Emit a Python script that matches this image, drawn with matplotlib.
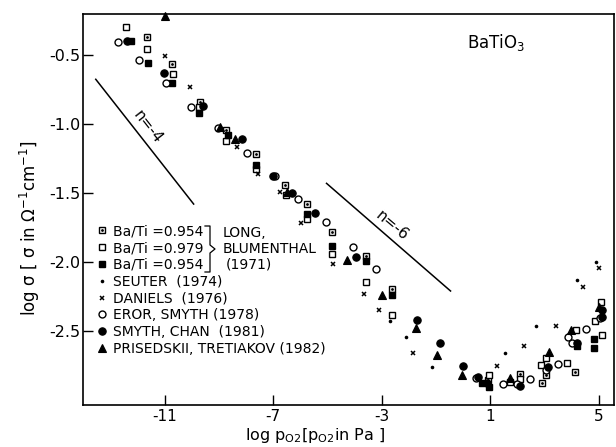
import matplotlib
matplotlib.use("Agg")
import matplotlib.pyplot as plt

plt.rcParams['font.family'] = ['DejaVu Sans']
plt.rcParams['mathtext.default'] = 'regular'

# ---------------- data (log pO2 [Pa], log sigma [S/cm]) ----------------
lb954_dot_x = [-11.65, -10.72, -9.71, -8.72, -7.62, -6.57, -5.75, -4.81, -3.58, -2.61, 0.93, 2.10, 2.90, 3.08, 4.13]
lb954_dot_y = [-0.367, -0.565, -0.838, -1.04, -1.22, -1.442, -1.582, -1.78, -1.954, -2.196, -2.855, -2.814, -2.874, -2.819, -2.795]

lb979_x = [-12.41, -11.64, -10.69, -9.72, -8.72, -7.62, -6.54, -5.75, -4.81, -3.59, -2.61, 0.97, 1.73, 2.10, 2.86, 3.05, 3.82, 4.17, 4.87, 5.11, 5.09]
lb979_y = [-0.295, -0.454, -0.638, -0.88, -1.123, -1.326, -1.514, -1.688, -1.944, -2.147, -2.384, -2.819, -2.872, -2.85, -2.746, -2.693, -2.734, -2.493, -2.428, -2.529, -2.287]

lb954_fill_x = [-12.25, -11.62, -10.73, -9.72, -8.66, -7.64, -5.75, -4.81, -3.58, -2.61, 0.72, 0.97, 4.19, 4.84, 4.83]
lb954_fill_y = [-0.40, -0.56, -0.705, -0.918, -1.08, -1.297, -1.654, -1.884, -1.993, -2.239, -2.874, -2.903, -2.61, -2.56, -2.626]

seuter_x = [-2.70, -2.11, -1.14, 1.55, 2.71, 4.21, 4.90]
seuter_y = [-2.425, -2.541, -2.759, -2.657, -2.464, -2.13, -1.998]

daniels_x = [-11.0, -10.05, -8.32, -7.56, -6.76, -5.98, -4.79, -3.65, -3.09, -1.86, 1.24, 2.26, 3.43, 4.41, 5.03]
daniels_y = [-0.51, -0.73, -1.169, -1.365, -1.49, -1.72, -2.014, -2.232, -2.348, -2.662, -2.754, -2.609, -2.464, -2.179, -2.046]

eror_x = [-12.72, -11.95, -10.96, -10.01, -9.05, -7.95, -6.93, -6.08, -5.06, -4.07, -3.19, 0.47, 1.48, 2.0, 2.47, 3.06, 3.49, 3.88, 4.03, 4.52, 5.05]
eror_y = [-0.404, -0.536, -0.705, -0.879, -1.03, -1.212, -1.375, -1.54, -1.708, -1.893, -2.053, -2.843, -2.884, -2.884, -2.85, -2.783, -2.739, -2.541, -2.589, -2.488, -2.408]

smyth_x = [-12.4, -11.04, -9.6, -8.15, -7.02, -6.32, -5.45, -3.95, -1.68, -0.85, 0.0, 0.56, 0.87, 2.10, 3.14, 4.21, 5.11, 5.11]
smyth_y = [-0.40, -0.633, -0.87, -1.11, -1.374, -1.5, -1.645, -1.966, -2.42, -2.589, -2.751, -2.83, -2.879, -2.896, -2.759, -2.585, -2.348, -2.40]

pris_x = [-11.0, -8.95, -8.41, -6.49, -4.26, -2.97, -1.74, -0.97, -0.02, 1.73, 3.18, 3.97, 5.01]
pris_y = [-0.22, -1.02, -1.11, -1.49, -1.986, -2.237, -2.48, -2.674, -2.819, -2.843, -2.654, -2.493, -2.324]

# slope guide lines
n4_x = [-13.54, -9.93]
n4_y = [-0.676, -1.58]
n6_x = [-5.03, -0.457]
n6_y = [-1.43, -2.21]

x_ticks = [-11, -7, -3, 1, 5]
y_ticks = [-2.5, -2.0, -1.5, -1.0, -0.5]
y_ticklabels = ['-2.5', '-2.0', '-1.5', '-1.0', '-0.5']

legend_labels = ['Ba/Ti =0.954', 'Ba/Ti =0.979', 'Ba/Ti =0.954', 'SEUTER  (1974)',
                 'DANIELS  (1976)', 'EROR, SMYTH (1978)', 'SMYTH, CHAN  (1981)',
                 'PRISEDSKII, TRETIAKOV (1982)']

# ---------------- figure ----------------
fig = plt.figure(figsize=(6.16, 4.47), dpi=100)
ax = fig.add_axes([83/616, 42/447, 531/616, 391/447])
ax.set_xlim(-14.01, 5.57)
ax.set_ylim(-3.036, -0.203)

k = 'black'
common = dict(linestyle='none', clip_on=False)
h_dsq, = ax.plot(lb954_dot_x, lb954_dot_y, marker='s', ms=4.5, mfc='white', mec=k, mew=1.0, **common)
h_dsq2, = ax.plot(lb954_dot_x, lb954_dot_y, marker='o', ms=2.0, mfc=k, mec=k, mew=0, **common)
h_osq, = ax.plot(lb979_x, lb979_y, marker='s', ms=4.5, mfc='white', mec=k, mew=1.0, **common)
h_fsq, = ax.plot(lb954_fill_x, lb954_fill_y, marker='s', ms=4.5, mfc=k, mec=k, mew=1.0, **common)
h_seu, = ax.plot(seuter_x, seuter_y, marker='o', ms=2.6, mfc=k, mec=k, mew=0, **common)
h_dan, = ax.plot(daniels_x, daniels_y, marker='x', ms=3.5, mec=k, mew=1.1, **common)
h_ero, = ax.plot(eror_x, eror_y, marker='o', ms=5, mfc='white', mec=k, mew=1.0, **common)
h_smy, = ax.plot(smyth_x, smyth_y, marker='o', ms=5.3, mfc=k, mec=k, mew=0.8, **common)
h_pri, = ax.plot(pris_x, pris_y, marker='^', ms=5.3, mfc=k, mec=k, mew=0.8, **common)

ax.plot(n4_x, n4_y, color=k, lw=1.1)
ax.plot(n6_x, n6_y, color=k, lw=1.1)
ax.text(-11.63, -1.02, 'n=-4', rotation=-52, ha='center', va='center', fontsize=11)
ax.text(-2.62, -1.74, 'n=-6', rotation=-40, ha='center', va='center', fontsize=11)
ax.text(0.723, 0.926, r'BaTiO$_3$', transform=ax.transAxes, ha='left', va='center', fontsize=12)

# axes styling
ax.set_xticks(x_ticks)
ax.set_xticklabels([str(v) for v in x_ticks])
ax.set_yticks(y_ticks)
ax.set_yticklabels(y_ticklabels)
ax.tick_params(direction='in', length=7, width=1.0, labelsize=11.5)
ax.tick_params(axis='x', pad=3, labelsize=11)
ax.tick_params(axis='y', pad=2)
for s in ax.spines.values():
    s.set_linewidth(1.2)

ax.set_ylabel(r'log σ [ σ in $\Omega^{-1}$cm$^{-1}$]', fontsize=12)
ax.yaxis.set_label_coords(-0.077, 0.453)
ax.set_xlabel(r'log p$_{O2}$[p$_{O2}$in Pa ]', fontsize=11.5)
ax.xaxis.set_label_coords(0.437, -0.053)

# legend
handles = [(h_dsq, h_dsq2), h_osq, h_fsq, h_seu, h_dan, h_ero, h_smy, h_pri]
leg = ax.legend(handles, legend_labels, loc='upper left', bbox_to_anchor=(0.0245, 0.462),
                frameon=False, fontsize=10, borderpad=0, borderaxespad=0,
                handlelength=0.8, handletextpad=0.45, labelspacing=0.2)

# brace and group label
bx0, bx1, bx2 = (205-83)/531, (210-83)/531, (215-83)/531
yt, ym, yb = (405-226)/391, (405-249)/391, (405-272)/391
d = 4/391
ax.plot([bx0, bx1, bx1, bx2, bx1, bx1, bx0], [yt, yt, ym + d, ym, ym - d, yb, yb],
        color=k, lw=0.9, transform=ax.transAxes, clip_on=False)
ax.text((223-83)/531, (405-233)/391, 'LONG,', transform=ax.transAxes, va='center', fontsize=10)
ax.text((223-83)/531, (405-249)/391, 'BLUMENTHAL', transform=ax.transAxes, va='center', fontsize=10)
ax.text((226-83)/531, (405-265)/391, '(1971)', transform=ax.transAxes, va='center', fontsize=10)

fig.savefig('out.png', dpi=100)
